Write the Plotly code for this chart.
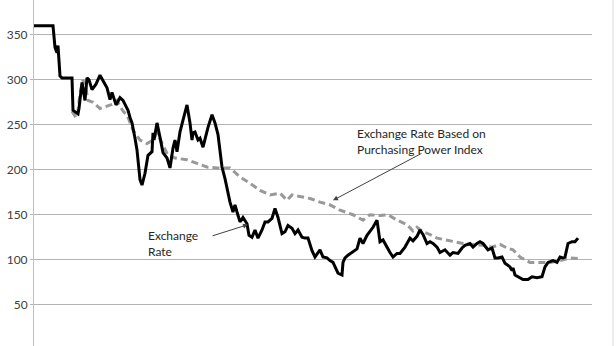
import plotly.graph_objects as go

# Exchange rate (period index, level)
rate_t = [0, 19, 21, 23, 24, 25, 26, 28, 32, 38, 39, 42, 44, 45, 48, 51, 53, 55, 58, 62,
          66, 70, 73, 76, 78, 82, 86, 89, 91, 94, 96, 98, 101, 103, 106, 108, 111, 114, 118,
          119, 120, 123, 126, 129, 133, 136, 139, 141, 143, 146, 149, 153, 156, 158, 159,
          161, 164, 166, 169, 173, 174, 178, 181, 184, 188, 191, 194, 196, 199, 201, 203,
          206, 209, 213, 215, 218, 221, 224, 228, 231, 234, 238, 241, 244, 248, 251, 254,
          258, 261, 264, 268, 271, 274, 278, 281, 286, 289, 293, 296, 299, 304, 308, 309,
          311, 314, 318, 323, 326, 329, 333, 336, 339, 343, 346, 349, 353, 356, 359, 363,
          366, 371, 376, 379, 383, 386, 389, 393, 396, 399, 403, 406, 411, 416, 419, 424,
          428, 431, 436, 439, 443, 446, 449, 454, 458, 461, 464, 468, 471, 474, 476, 478,
          479, 481, 484, 489, 494, 498, 503, 508, 511, 514, 519, 523, 526, 529, 531, 534,
          538, 541, 544, 547, 549, 553, 556]
rate_v = [360, 360, 336, 330, 338, 312, 304, 302, 302, 302, 266, 264, 262, 268, 297, 277,
          302, 300, 289, 295, 305, 297, 291, 278, 286, 272, 280, 277, 272, 266, 258, 252,
          235, 222, 189, 183, 196, 216, 220, 241, 233, 252, 236, 219, 213, 202, 224, 233,
          220, 242, 255, 272, 252, 233, 241, 242, 233, 235, 225, 244, 247, 261, 252, 239,
          203, 190, 174, 164, 153, 161, 153, 142, 147, 140, 127, 125, 133, 124, 133, 142,
          142, 146, 157, 147, 129, 131, 138, 135, 129, 133, 125, 124, 124, 110, 103, 111,
          103, 102, 99, 97, 85, 83, 97, 102, 105, 108, 112, 124, 118, 127, 131, 136, 144,
          120, 122, 113, 108, 103, 107, 107, 114, 124, 121, 126, 133, 128, 118, 120, 118,
          114, 108, 111, 105, 108, 107, 113, 116, 118, 114, 118, 120, 118, 111, 113, 102,
          102, 103, 96, 94, 92, 88, 91, 83, 81, 78, 78, 81, 80, 81, 92, 97, 99, 97, 103,
          102, 103, 118, 120, 120, 124]

# Exchange rate implied by the purchasing power index
ppp_t = [38, 42, 44, 46, 49, 52, 54, 59, 66, 73, 79, 83, 86, 90, 93, 99, 106, 113, 119,
         123, 128, 134, 141, 153, 163, 173, 183, 193, 196, 206, 216, 226, 236, 246, 253,
         258, 266, 276, 286, 296, 306, 319, 329, 336, 346, 354, 363, 373, 379, 383, 389,
         396, 403, 411, 419, 429, 439, 449, 458, 466, 473, 479, 486, 496, 504, 516, 526,
         536, 546, 556]
ppp_v = [265, 258, 265, 285, 300, 290, 277, 275, 268, 271, 273, 277, 270, 264, 261, 244,
         233, 229, 233, 241, 229, 216, 213, 211, 207, 203, 202, 202, 202, 192, 185, 177,
         172, 174, 166, 172, 170, 168, 164, 161, 155, 150, 144, 150, 149, 150, 144, 139,
         132, 136, 131, 128, 124, 122, 120, 118, 117, 116, 114, 117, 113, 111, 103, 97,
         97, 97, 99, 102, 101]

y_ticks = [50, 100, 150, 200, 250, 300, 350]

fig = go.Figure()
fig.add_trace(go.Scatter(x=ppp_t, y=ppp_v, mode="lines",
                         line=dict(color="#999999", width=3, dash="7px,4px"),
                         hoverinfo="skip"))
fig.add_trace(go.Scatter(x=rate_t, y=rate_v, mode="lines",
                         line=dict(color="#000000", width=3),
                         hoverinfo="skip"))

font_txt = dict(family="Lato", size=12, color="#262626")
fig.add_annotation(x=321, y=231, xref="x", yref="y", showarrow=False,
                   text="Exchange Rate Based on<br>Purchasing Power Index",
                   xanchor="left", yanchor="middle", align="left", font=font_txt)
fig.add_annotation(x=299, y=166, ax=389, ay=219, xref="x", yref="y",
                   axref="x", ayref="y", text="", showarrow=True,
                   arrowhead=2, arrowsize=1, arrowwidth=1, arrowcolor="#404040")
fig.add_annotation(x=112, y=118, xref="x", yref="y", showarrow=False,
                   text="Exchange<br>Rate", xanchor="left", yanchor="middle",
                   align="left", font=font_txt)
fig.add_annotation(x=214, y=139, ax=177, ay=126, xref="x", yref="y",
                   axref="x", ayref="y", text="", showarrow=True,
                   arrowhead=2, arrowsize=1, arrowwidth=1, arrowcolor="#404040")

# outer chart border on the right
fig.add_shape(type="line", xref="paper", yref="paper", x0=1.0376, x1=1.0376,
              y0=0, y1=1, line=dict(color="#d9d9d9", width=1))

fig.update_layout(
    width=616, height=346,
    margin=dict(l=34, r=24, t=0, b=0),
    paper_bgcolor="white", plot_bgcolor="white",
    showlegend=False,
    font=dict(family="Lato", size=12, color="#404040"),
    xaxis=dict(range=[0, 558], showgrid=False, showticklabels=False,
               zeroline=False, showline=False, ticks=""),
    yaxis=dict(range=[4.1, 388.6], tickvals=y_ticks, showgrid=True,
               gridcolor="#b3b3b3", gridwidth=1, zeroline=False,
               showline=True, linecolor="#c0c0c0", linewidth=1,
               ticks="outside", ticklen=3, tickcolor="#b3b3b3",
               tickfont=dict(family="Lato", size=12, color="#404040")),
)

fig.write_html("out.html")
